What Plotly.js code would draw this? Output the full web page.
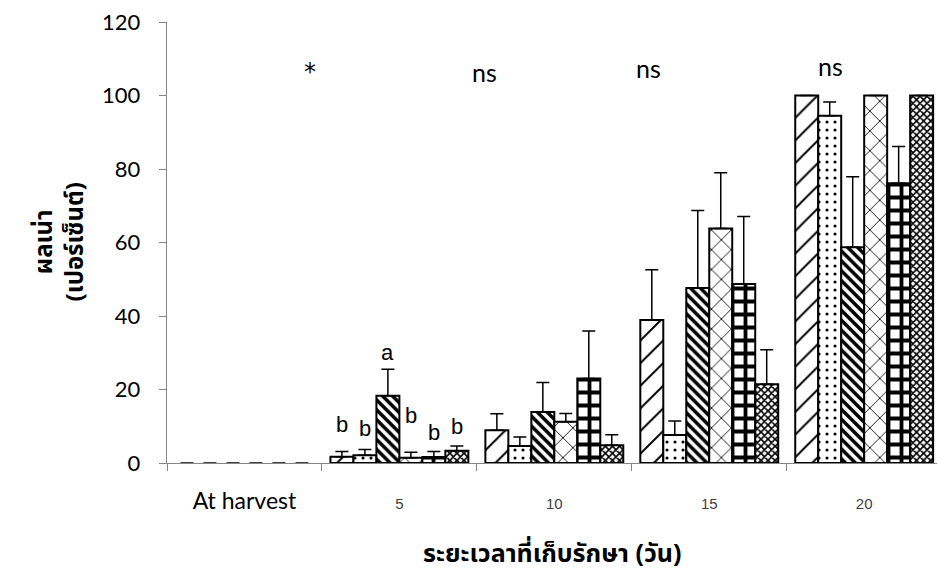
<!DOCTYPE html>
<html>
<head>
<meta charset="utf-8">
<script src="https://cdn.plot.ly/plotly-3.0.1.min.js"></script>
<style>html,body{margin:0;padding:0;background:#fff;}#chart{width:937px;height:574px;}</style>
</head>
<body>
<div id="chart"></div>
<script>
// ---- data ----
const categories = ['At harvest', '5', '10', '15', '20'];
const seriesNames = ['T1', 'T2', 'T3', 'T4', 'T5', 'T6'];
const s1 = [0, 1.7, 8.9, 38.9, 100];
const s2 = [0, 2.1, 4.6, 7.6, 94.5];
const s3 = [0, 18.3, 13.9, 47.6, 58.7];
const s4 = [0, 1.4, 11.2, 63.8, 100];
const s5 = [0, 1.6, 23.0, 48.7, 76.1];
const s6 = [0, 3.3, 4.8, 21.4, 100];
const e1 = [0, 1.4, 4.5, 13.7, 0];
const e2 = [0, 1.6, 2.5, 3.8, 3.7];
const e3 = [0, 7.2, 8.0, 21.1, 19.2];
const e4 = [0, 1.5, 2.3, 15.2, 0];
const e5 = [0, 1.5, 12.9, 18.4, 10.0];
const e6 = [0, 1.3, 2.9, 9.4, 0];
const day5Letters = ['b', 'b', 'a', 'b', 'b', 'b'];
const sigLabels = ['*', 'ns', 'ns', 'ns'];
const yTitle = 'ผลเน่า<br>(เปอร์เซ็นต์)';
const xTitle = 'ระยะเวลาที่เก็บรักษา (วัน)';

// ---- styles ----
const values = [s1, s2, s3, s4, s5, s6];
const errs = [e1, e2, e3, e4, e5, e6];
const patterns = [
  {shape: '/', size: 16, solidity: 0.12},
  {shape: '.', size: 8, solidity: 0.12},
  {shape: '\\', size: 7, solidity: 0.5},
  {shape: 'x', size: 14, solidity: 0.12},
  {shape: '+', size: 13, solidity: 0.5},
  {shape: 'x', size: 5, solidity: 0.55}
];
const lineW = categories.map((c, i) => i === 0 ? 0 : 2);

const traces = values.map((v, k) => ({
  type: 'bar',
  name: seriesNames[k],
  x: categories,
  y: v,
  marker: {
    color: '#ffffff',
    line: {color: '#000000', width: lineW},
    pattern: Object.assign({fgcolor: '#000000', bgcolor: '#ffffff', fillmode: 'replace'}, patterns[k])
  },
  error_y: {
    type: 'data', symmetric: false, array: errs[k],
    arrayminus: errs[k].map(() => 0),
    color: '#000000', thickness: 1.5, width: 6.5, visible: true
  },
  showlegend: false
}));

const numFont = 'Lato, "Open Sans", sans-serif';
const thaiFont = '"Noto Sans Thai", "Noto Sans Thai UI", Tahoma, "DejaVu Sans", sans-serif';

const tickText = categories.map((c, i) => i === 0
  ? '<span style="font-size:23px;font-family:Lato;color:#000">' + c + '</span>'
  : c);

const annotations = [];
const barGroup = 0.89;
day5Letters.forEach((t, i) => {
  const yPos = [10.6, 9.5, 30.2, 12.8, 8.2, 9.8][i];
  annotations.push({
    x: 1 + (i - 2.5) * barGroup / 6, y: yPos, xref: 'x', yref: 'y',
    text: t, showarrow: false,
    font: {family: 'Liberation Sans, Arial, sans-serif', size: 22, color: '#000'}
  });
});
const sigX = [0.42, 1.55, 2.61, 3.78];
const sigY = [106.5, 106.3, 107.4, 107.9];
sigLabels.forEach((t, i) => {
  annotations.push({
    x: sigX[i], y: sigY[i], xref: 'x', yref: 'y', text: t, showarrow: false,
    font: {family: t === '*' ? '"DejaVu Sans", sans-serif' : numFont, size: t === '*' ? 24 : 25, color: '#000'}
  });
});
annotations.push({
  x: 0, xref: 'paper', xshift: -107, y: 0.5, yref: 'paper',
  text: '<b>' + yTitle + '</b>', textangle: -90, showarrow: false,
  xanchor: 'center', yanchor: 'middle',
  font: {family: thaiFont, size: 24, color: '#000'}
});
annotations.push({
  x: 0.5, xref: 'paper', y: 0, yref: 'paper', yshift: -91,
  text: '<b>' + xTitle + '</b>', showarrow: false,
  xanchor: 'center', yanchor: 'middle',
  font: {family: thaiFont, size: 25, color: '#000'}
});

const layout = {
  width: 937, height: 574,
  margin: {l: 167, r: 0, t: 22, b: 111},
  paper_bgcolor: '#ffffff', plot_bgcolor: '#ffffff',
  barmode: 'group', bargap: 0.11, bargroupgap: 0,
  showlegend: false,
  xaxis: {
    type: 'category', range: [-0.5, 4.47],
    tickmode: 'array', tickvals: categories, ticktext: tickText,
    tickson: 'boundaries', ticks: 'outside', ticklen: 7, tickcolor: '#868686', tickwidth: 1,
    showline: true, linecolor: '#868686', linewidth: 1.3,
    showgrid: false, zeroline: false,
    tickfont: {family: 'Liberation Sans, Arial, sans-serif', size: 15, color: '#404040'},
    ticklabelstandoff: 27
  },
  yaxis: {
    range: [0, 120], tickmode: 'linear', tick0: 0, dtick: 20,
    ticks: 'outside', ticklen: 7, tickcolor: '#868686', tickwidth: 1,
    showline: true, linecolor: '#868686', linewidth: 1.3,
    showgrid: false, zeroline: false,
    tickfont: {family: numFont, size: 22, color: '#000'},
    ticklabelstandoff: 14
  },
  annotations: annotations
};

Plotly.newPlot('chart', traces, layout, {displayModeBar: false, staticPlot: true});
</script>
</body>
</html>
